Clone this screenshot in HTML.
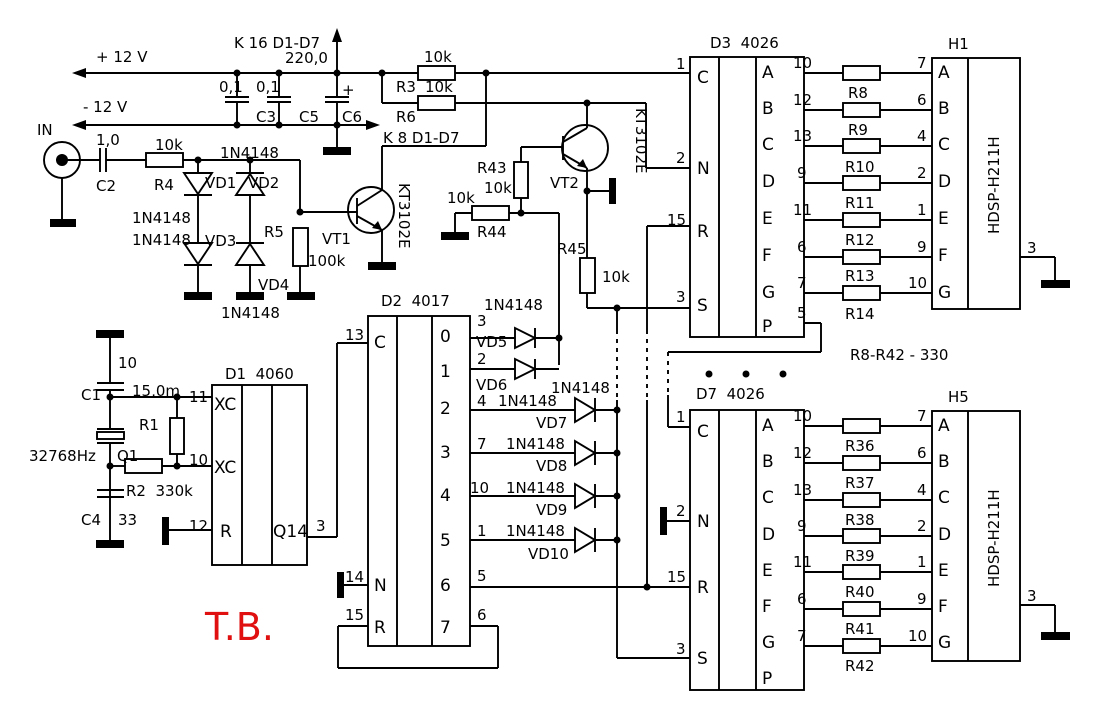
<!DOCTYPE html>
<html><head><meta charset="utf-8"><style>
html,body{margin:0;padding:0;background:#fff}
svg{display:block}
text{font-family:"DejaVu Sans","Liberation Sans",sans-serif;font-size:15px;fill:#000}
.b{font-size:17px}
</style></head><body>
<svg width="1100" height="719" viewBox="0 0 1100 719" xmlns="http://www.w3.org/2000/svg">
<g stroke="#000" stroke-width="1.9" fill="none">
<line x1="80" y1="73" x2="690" y2="73"/>
<line x1="80" y1="125" x2="372" y2="125"/>
<line x1="337" y1="73" x2="337" y2="35"/>
<line x1="237" y1="73" x2="237" y2="97"/><line x1="237" y1="102" x2="237" y2="125"/>
<line x1="225" y1="97" x2="249" y2="97"/><line x1="225" y1="102" x2="249" y2="102"/>
<line x1="279" y1="73" x2="279" y2="97"/><line x1="279" y1="102" x2="279" y2="125"/>
<line x1="267" y1="97" x2="291" y2="97"/><line x1="267" y1="102" x2="291" y2="102"/>
<line x1="337" y1="73" x2="337" y2="97"/><line x1="337" y1="102" x2="337" y2="150"/>
<line x1="325" y1="97" x2="349" y2="97"/><line x1="325" y1="102" x2="349" y2="102"/>
<rect x="418" y="66" width="37" height="14" fill="#fff"/>
<line x1="382" y1="73" x2="382" y2="103"/><line x1="382" y1="103" x2="418" y2="103"/>
<rect x="418" y="96" width="37" height="14" fill="#fff"/>
<line x1="455" y1="103" x2="646" y2="103"/>
<line x1="646" y1="103" x2="646" y2="168"/><line x1="646" y1="168" x2="690" y2="168"/>
<line x1="486" y1="73" x2="486" y2="146"/><line x1="486" y1="146" x2="382" y2="146"/>
<line x1="382" y1="146" x2="382" y2="190"/>
<circle cx="62" cy="160" r="18"/>
<line x1="62" y1="178" x2="62" y2="220"/>
<line x1="62" y1="160" x2="100" y2="160"/>
<line x1="100" y1="148" x2="100" y2="172"/><line x1="106" y1="148" x2="106" y2="172"/>
<line x1="106" y1="160" x2="146" y2="160"/>
<rect x="146" y="153" width="37" height="14" fill="#fff"/>
<line x1="183" y1="160" x2="300" y2="160"/>
<line x1="300" y1="160" x2="300" y2="212"/>
<line x1="300" y1="212" x2="357" y2="212"/>
<line x1="198" y1="160" x2="198" y2="292"/>
<polygon points="184,173 212,173 198,194" fill="#fff"/><line x1="184" y1="195" x2="212" y2="195"/>
<polygon points="184,243 212,243 198,264" fill="#fff"/><line x1="184" y1="265" x2="212" y2="265"/>
<line x1="250" y1="160" x2="250" y2="292"/>
<polygon points="236,195 264,195 250,174" fill="#fff"/><line x1="236" y1="173" x2="264" y2="173"/>
<polygon points="236,265 264,265 250,244" fill="#fff"/><line x1="236" y1="243" x2="264" y2="243"/>
<rect x="293" y="228" width="15" height="38" fill="#fff"/>
<line x1="300" y1="266" x2="300" y2="292"/>
<circle cx="371" cy="210" r="23"/>
<line x1="357" y1="198" x2="357" y2="224"/>
<line x1="357" y1="206" x2="382" y2="190"/>
<line x1="357" y1="216" x2="382" y2="230"/>
<line x1="382" y1="230" x2="382" y2="262"/>
<line x1="455" y1="234" x2="455" y2="213"/><line x1="455" y1="213" x2="472" y2="213"/>
<rect x="472" y="206" width="37" height="14" fill="#fff"/>
<line x1="509" y1="213" x2="559" y2="213"/>
<line x1="559" y1="213" x2="559" y2="365"/>
<rect x="514" y="162" width="14" height="36" fill="#fff"/>
<line x1="521" y1="198" x2="521" y2="213"/>
<line x1="521" y1="162" x2="521" y2="147"/><line x1="521" y1="147" x2="563" y2="147"/>
<circle cx="585" cy="148" r="23"/>
<line x1="563" y1="136" x2="563" y2="160"/>
<line x1="563" y1="142" x2="587" y2="128"/><line x1="587" y1="128" x2="587" y2="103"/>
<line x1="563" y1="154" x2="587" y2="168"/>
<line x1="587" y1="168" x2="587" y2="258"/>
<line x1="587" y1="191" x2="612" y2="191"/>
<rect x="580" y="258" width="15" height="35" fill="#fff"/>
<line x1="587" y1="293" x2="587" y2="308"/><line x1="587" y1="308" x2="690" y2="308"/>
<rect x="690" y="57" width="114" height="280"/>
<line x1="719" y1="57" x2="719" y2="337"/><line x1="756" y1="57" x2="756" y2="337"/>
<line x1="690" y1="226" x2="647" y2="226"/><line x1="647" y1="226" x2="647" y2="330"/>
<line x1="617" y1="308" x2="617" y2="330"/>
<line x1="804" y1="323" x2="821" y2="323"/><line x1="821" y1="323" x2="821" y2="352"/>
<line x1="821" y1="352" x2="668" y2="352"/>
<line x1="668" y1="395" x2="668" y2="427"/><line x1="668" y1="427" x2="690" y2="427"/>
<g stroke-dasharray="4,5">
<line x1="668" y1="352" x2="668" y2="395"/>
<line x1="617" y1="330" x2="617" y2="400"/>
<line x1="647" y1="330" x2="647" y2="400"/>
</g>
<line x1="617" y1="400" x2="617" y2="658"/><line x1="617" y1="658" x2="690" y2="658"/>
<line x1="647" y1="400" x2="647" y2="587"/>
<line x1="804" y1="73" x2="932" y2="73"/><line x1="804" y1="110" x2="932" y2="110"/><line x1="804" y1="146" x2="932" y2="146"/><line x1="804" y1="183" x2="932" y2="183"/><line x1="804" y1="220" x2="932" y2="220"/><line x1="804" y1="257" x2="932" y2="257"/><line x1="804" y1="293" x2="932" y2="293"/>
<g fill="#fff">
<rect x="843" y="66" width="37" height="14"/><rect x="843" y="103" width="37" height="14"/><rect x="843" y="139" width="37" height="14"/><rect x="843" y="176" width="37" height="14"/><rect x="843" y="213" width="37" height="14"/><rect x="843" y="250" width="37" height="14"/><rect x="843" y="286" width="37" height="14"/>
</g>
<rect x="932" y="58" width="88" height="251"/><line x1="968" y1="58" x2="968" y2="309"/>
<line x1="1020" y1="257" x2="1055" y2="257"/><line x1="1055" y1="257" x2="1055" y2="282"/>
<rect x="690" y="410" width="114" height="280"/>
<line x1="719" y1="410" x2="719" y2="690"/><line x1="756" y1="410" x2="756" y2="690"/>
<line x1="665" y1="521" x2="690" y2="521"/>
<line x1="470" y1="587" x2="690" y2="587"/>
<line x1="804" y1="426" x2="932" y2="426"/><line x1="804" y1="463" x2="932" y2="463"/><line x1="804" y1="500" x2="932" y2="500"/><line x1="804" y1="536" x2="932" y2="536"/><line x1="804" y1="572" x2="932" y2="572"/><line x1="804" y1="609" x2="932" y2="609"/><line x1="804" y1="646" x2="932" y2="646"/>
<g fill="#fff">
<rect x="843" y="419" width="37" height="14"/><rect x="843" y="456" width="37" height="14"/><rect x="843" y="493" width="37" height="14"/><rect x="843" y="529" width="37" height="14"/><rect x="843" y="565" width="37" height="14"/><rect x="843" y="602" width="37" height="14"/><rect x="843" y="639" width="37" height="14"/>
</g>
<rect x="932" y="411" width="88" height="250"/><line x1="968" y1="411" x2="968" y2="661"/>
<line x1="1020" y1="605" x2="1055" y2="605"/><line x1="1055" y1="605" x2="1055" y2="634"/>
<rect x="368" y="316" width="102" height="330"/>
<line x1="397" y1="316" x2="397" y2="646"/><line x1="432" y1="316" x2="432" y2="646"/>
<line x1="368" y1="343" x2="337" y2="343"/><line x1="337" y1="343" x2="337" y2="537"/><line x1="337" y1="537" x2="307" y2="537"/>
<line x1="368" y1="585" x2="343" y2="585"/>
<line x1="368" y1="626" x2="338" y2="626"/><line x1="338" y1="626" x2="338" y2="668"/><line x1="338" y1="668" x2="498" y2="668"/><line x1="498" y1="668" x2="498" y2="626"/><line x1="498" y1="626" x2="470" y2="626"/>
<line x1="470" y1="338" x2="559" y2="338"/>
<line x1="470" y1="369" x2="559" y2="369"/>
<polygon points="515,328 515,348 535,338" fill="#fff"/><line x1="535" y1="328" x2="535" y2="348"/>
<polygon points="515,359 515,379 535,369" fill="#fff"/><line x1="535" y1="359" x2="535" y2="379"/>
<line x1="470" y1="410" x2="617" y2="410"/><line x1="470" y1="453" x2="617" y2="453"/><line x1="470" y1="496" x2="617" y2="496"/><line x1="470" y1="540" x2="617" y2="540"/>
<polygon points="575,398 575,422 595,410" fill="#fff"/><line x1="595" y1="398" x2="595" y2="422"/>
<polygon points="575,441 575,465 595,453" fill="#fff"/><line x1="595" y1="441" x2="595" y2="465"/>
<polygon points="575,484 575,508 595,496" fill="#fff"/><line x1="595" y1="484" x2="595" y2="508"/>
<polygon points="575,528 575,552 595,540" fill="#fff"/><line x1="595" y1="528" x2="595" y2="552"/>
<rect x="212" y="385" width="95" height="180"/>
<line x1="242" y1="385" x2="242" y2="565"/><line x1="272" y1="385" x2="272" y2="565"/>
<line x1="168" y1="530" x2="212" y2="530"/>
<line x1="110" y1="337" x2="110" y2="383"/><line x1="97" y1="383" x2="124" y2="383"/><line x1="97" y1="390" x2="124" y2="390"/>
<line x1="110" y1="390" x2="110" y2="429"/>
<rect x="97" y="432" width="27" height="7"/><line x1="97" y1="429" x2="124" y2="429"/><line x1="97" y1="443" x2="124" y2="443"/>
<line x1="110" y1="443" x2="110" y2="540"/>
<line x1="97" y1="490" x2="124" y2="490"/><line x1="97" y1="497" x2="124" y2="497"/>
<line x1="110" y1="466" x2="125" y2="466"/>
<rect x="125" y="459" width="37" height="14" fill="#fff"/>
<line x1="162" y1="466" x2="212" y2="466"/>
<rect x="170" y="418" width="14" height="36" fill="#fff"/>
<line x1="177" y1="454" x2="177" y2="466"/>
<line x1="110" y1="397" x2="212" y2="397"/><line x1="177" y1="397" x2="177" y2="418"/>
</g>
<g fill="#000">
<polygon points="72,73 86,68 86,78"/><polygon points="72,125 86,120 86,130"/>
<polygon points="380,125 366,120 366,130"/><polygon points="337,28 332,42 342,42"/>
<polygon points="382,230 372,228 378,221"/><polygon points="587,168 577,166 583,159"/>
<rect x="50" y="219" width="26" height="8"/><rect x="323" y="147" width="28" height="8"/>
<rect x="184" y="292" width="28" height="8"/><rect x="236" y="292" width="28" height="8"/><rect x="287" y="292" width="28" height="8"/>
<rect x="368" y="262" width="28" height="8"/><rect x="441" y="232" width="28" height="8"/>
<rect x="609" y="178" width="7" height="26"/><rect x="1041" y="280" width="29" height="8"/><rect x="1041" y="632" width="29" height="8"/>
<rect x="660" y="507" width="7" height="28"/><rect x="337" y="572" width="7" height="26"/>
<rect x="96" y="330" width="28" height="8"/><rect x="96" y="540" width="28" height="8"/><rect x="162" y="517" width="7" height="28"/>
<circle cx="62" cy="160" r="6"/>
<circle cx="237" cy="73" r="3.5"/><circle cx="279" cy="73" r="3.5"/><circle cx="337" cy="73" r="3.5"/><circle cx="382" cy="73" r="3.5"/><circle cx="486" cy="73" r="3.5"/>
<circle cx="237" cy="125" r="3.5"/><circle cx="279" cy="125" r="3.5"/><circle cx="337" cy="125" r="3.5"/>
<circle cx="198" cy="160" r="3.5"/><circle cx="250" cy="160" r="3.5"/><circle cx="300" cy="212" r="3.5"/>
<circle cx="587" cy="103" r="3.5"/><circle cx="587" cy="191" r="3.5"/><circle cx="521" cy="213" r="3.5"/><circle cx="559" cy="338" r="3.5"/>
<circle cx="617" cy="308" r="3.5"/><circle cx="617" cy="410" r="3.5"/><circle cx="617" cy="453" r="3.5"/><circle cx="617" cy="496" r="3.5"/><circle cx="617" cy="540" r="3.5"/><circle cx="647" cy="587" r="3.5"/>
<circle cx="110" cy="397" r="3.5"/><circle cx="177" cy="397" r="3.5"/><circle cx="110" cy="466" r="3.5"/><circle cx="177" cy="466" r="3.5"/>
<circle cx="709" cy="374" r="3.5"/><circle cx="746" cy="374" r="3.5"/><circle cx="783" cy="374" r="3.5"/>
</g>
<text x="96" y="62">+ 12 V</text><text x="83" y="112">- 12 V</text>
<text x="234" y="48">K 16 D1-D7</text><text x="285" y="63">220,0</text>
<text x="219" y="92">0,1</text><text x="256" y="92">0,1</text><text x="342" y="95">+</text>
<text x="256" y="122">C3</text><text x="299" y="122">C5</text><text x="342" y="122">C6</text>
<text x="424" y="62">10k</text><text x="396" y="92">R3</text><text x="425" y="92">10k</text><text x="396" y="122">R6</text>
<text x="383" y="143">K 8 D1-D7</text>
<text x="37" y="135">IN</text><text x="96" y="145">1,0</text><text x="96" y="191">C2</text>
<text x="155" y="150">10k</text><text x="154" y="190">R4</text>
<text x="220" y="158">1N4148</text><text x="205" y="188">VD1</text><text x="248" y="188">VD2</text>
<text x="132" y="223">1N4148</text><text x="132" y="245">1N4148</text><text x="205" y="246">VD3</text>
<text x="264" y="237">R5</text><text x="308" y="266">100k</text><text x="322" y="244">VT1</text>
<text x="258" y="290">VD4</text><text x="221" y="318">1N4148</text>
<text transform="translate(399,183) rotate(90)">KT3102E</text>
<text transform="translate(636,108) rotate(90)">KT3102E</text>
<text x="477" y="173">R43</text><text x="484" y="193">10k</text><text x="447" y="203">10k</text><text x="477" y="237">R44</text>
<text x="550" y="188">VT2</text><text x="557" y="254">R45</text><text x="602" y="282">10k</text>
<text x="710" y="48">D3&#160;&#160;4026</text>
<text x="676" y="69">1</text><text x="676" y="163">2</text><text x="667" y="225">15</text><text x="676" y="302">3</text>
<text class="b" x="697" y="83">C</text><text class="b" x="697" y="174">N</text><text class="b" x="697" y="237">R</text><text class="b" x="697" y="311">S</text>
<text class="b" x="762" y="78">A</text><text class="b" x="762" y="114">B</text><text class="b" x="762" y="150">C</text><text class="b" x="762" y="187">D</text><text class="b" x="762" y="224">E</text><text class="b" x="762" y="261">F</text><text class="b" x="762" y="298">G</text><text class="b" x="762" y="332">P</text>
<text x="793" y="68">10</text><text x="793" y="105">12</text><text x="793" y="141">13</text><text x="797" y="178">9</text><text x="793" y="215">11</text><text x="797" y="252">6</text><text x="797" y="288">7</text><text x="797" y="318">5</text>
<text x="848" y="98">R8</text><text x="848" y="135">R9</text><text x="845" y="172">R10</text><text x="845" y="208">R11</text><text x="845" y="245">R12</text><text x="845" y="281">R13</text><text x="845" y="319">R14</text>
<text x="917" y="68">7</text><text x="917" y="105">6</text><text x="917" y="141">4</text><text x="917" y="178">2</text><text x="917" y="215">1</text><text x="917" y="252">9</text><text x="908" y="288">10</text>
<text x="948" y="49">H1</text>
<text class="b" x="938" y="78">A</text><text class="b" x="938" y="114">B</text><text class="b" x="938" y="150">C</text><text class="b" x="938" y="187">D</text><text class="b" x="938" y="224">E</text><text class="b" x="938" y="261">F</text><text class="b" x="938" y="298">G</text>
<text transform="translate(999,234) rotate(-90)">HDSP-H211H</text>
<text x="1027" y="253">3</text>
<text x="850" y="360">R8-R42 - 330</text>
<text x="696" y="399">D7&#160;&#160;4026</text>
<text x="676" y="422">1</text><text x="676" y="516">2</text><text x="667" y="582">15</text><text x="676" y="654">3</text>
<text class="b" x="697" y="437">C</text><text class="b" x="697" y="527">N</text><text class="b" x="697" y="593">R</text><text class="b" x="697" y="664">S</text>
<text class="b" x="762" y="431">A</text><text class="b" x="762" y="467">B</text><text class="b" x="762" y="503">C</text><text class="b" x="762" y="540">D</text><text class="b" x="762" y="576">E</text><text class="b" x="762" y="612">F</text><text class="b" x="762" y="648">G</text><text class="b" x="762" y="684">P</text>
<text x="793" y="421">10</text><text x="793" y="458">12</text><text x="793" y="495">13</text><text x="797" y="531">9</text><text x="793" y="567">11</text><text x="797" y="604">6</text><text x="797" y="641">7</text>
<text x="845" y="451">R36</text><text x="845" y="488">R37</text><text x="845" y="525">R38</text><text x="845" y="561">R39</text><text x="845" y="597">R40</text><text x="845" y="634">R41</text><text x="845" y="671">R42</text>
<text x="917" y="421">7</text><text x="917" y="458">6</text><text x="917" y="495">4</text><text x="917" y="531">2</text><text x="917" y="567">1</text><text x="917" y="604">9</text><text x="908" y="641">10</text>
<text x="948" y="402">H5</text>
<text class="b" x="938" y="431">A</text><text class="b" x="938" y="467">B</text><text class="b" x="938" y="503">C</text><text class="b" x="938" y="540">D</text><text class="b" x="938" y="576">E</text><text class="b" x="938" y="612">F</text><text class="b" x="938" y="648">G</text>
<text transform="translate(999,587) rotate(-90)">HDSP-H211H</text>
<text x="1027" y="601">3</text>
<text x="381" y="306">D2&#160;&#160;4017</text>
<text x="345" y="340">13</text><text x="345" y="582">14</text><text x="345" y="620">15</text>
<text class="b" x="374" y="348">C</text><text class="b" x="374" y="591">N</text><text class="b" x="374" y="633">R</text>
<text class="b" x="440" y="342">0</text><text class="b" x="440" y="377">1</text><text class="b" x="440" y="414">2</text><text class="b" x="440" y="458">3</text><text class="b" x="440" y="501">4</text><text class="b" x="440" y="546">5</text><text class="b" x="440" y="591">6</text><text class="b" x="440" y="633">7</text>
<text x="477" y="326">3</text><text x="477" y="364">2</text><text x="477" y="406">4</text><text x="477" y="449">7</text><text x="470" y="493">10</text><text x="477" y="536">1</text><text x="477" y="581">5</text><text x="477" y="620">6</text>
<text x="484" y="310">1N4148</text><text x="476" y="347">VD5</text><text x="476" y="390">VD6</text>
<text x="551" y="393">1N4148</text><text x="498" y="406">1N4148</text><text x="536" y="428">VD7</text>
<text x="506" y="449">1N4148</text><text x="536" y="471">VD8</text>
<text x="506" y="493">1N4148</text><text x="536" y="515">VD9</text>
<text x="506" y="536">1N4148</text><text x="528" y="559">VD10</text>
<text x="225" y="379">D1&#160;&#160;4060</text>
<text x="189" y="402">11</text><text x="189" y="465">10</text><text x="189" y="531">12</text><text x="316" y="531">3</text>
<text class="b" x="214" y="410">XC</text><text class="b" x="214" y="473">XC</text><text class="b" x="220" y="537">R</text><text class="b" x="273" y="537">Q14</text>
<text x="118" y="368">10</text><text x="81" y="400">C1</text><text x="132" y="396">15,0m</text><text x="139" y="430">R1</text>
<text x="29" y="461">32768Hz</text><text x="117" y="461">Q1</text><text x="126" y="496">R2&#160;&#160;330k</text>
<text x="81" y="525">C4</text><text x="118" y="525">33</text>
<text x="205" y="640" style="font-size:38px;fill:#e01010">T.B.</text>
</svg>
</body></html>
